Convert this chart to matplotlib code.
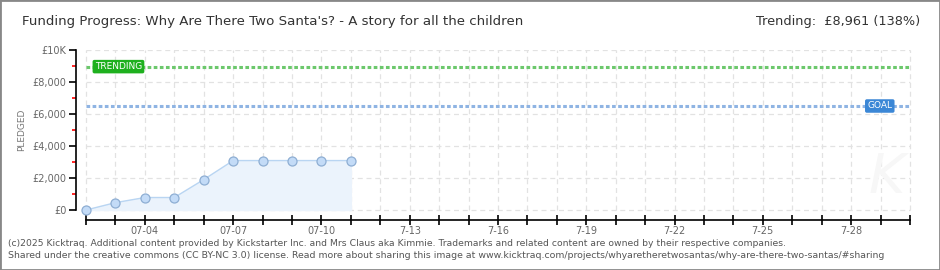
import matplotlib.pyplot as plt
from matplotlib.patches import Rectangle

# days since 07-02 (last tick is 07-30)
days = list(range(0, 29))
tick_labels = ["", "", "07-04", "", "", "07-07", "", "", "07-10", "", "", "7-13", "", "", "7-16",
               "", "", "7-19", "", "", "7-22", "", "", "7-25", "", "", "7-28", "", ""]
pledged_days = [0, 1, 2, 3, 4, 5, 6, 7, 8, 9]
pledged = [0, 460, 780, 780, 1900, 3090, 3090, 3090, 3090, 3090]
goal = 6500
trending = 8961
y_ticks = [0, 2000, 4000, 6000, 8000, 10000]
y_labels = ["£0", "£2,000", "£4,000", "£6,000", "£8,000", "£10K"]
y_minor = [1000, 3000, 5000, 7000, 9000]

W, H = 940, 270
fig = plt.figure(figsize=(9.4, 2.7), dpi=100)
fig.patches.append(Rectangle((0, 0), 1, 1, transform=fig.transFigure, fill=False,
                             edgecolor="#888888", linewidth=2))

ax = fig.add_axes([76 / W, 1 - 220 / H, (912 - 76) / W, 170 / H])
ax.set_xlim(-0.34, 28.07)
ax.set_ylim(-625, 10000)

for s in ["top", "right"]:
    ax.spines[s].set_visible(False)
ax.spines["left"].set_bounds(0, 10000)
ax.spines["bottom"].set_bounds(0, 28)
ax.spines["left"].set_linewidth(1.2)
ax.spines["bottom"].set_linewidth(1.2)

ax.set_xticks(days)
ax.set_xticklabels(tick_labels)
ax.tick_params(axis="x", direction="inout", length=7, width=1.2, labelsize=7,
               labelcolor="#666666", pad=1)
ax.set_yticks(y_ticks)
ax.set_yticklabels(y_labels)
ax.set_yticks(y_minor, minor=True)
ax.tick_params(axis="y", which="major", length=5, width=1.2, labelsize=7, labelcolor="#666666", pad=2)
ax.tick_params(axis="y", which="minor", length=3, width=1.2, color="red")
fig.text(22 / W, 1 - 130 / H, "PLEDGED", fontsize=6.5, color="#777777", rotation=90,
         ha="center", va="center")

# grid
for d in days:
    ax.plot([d, d], [0, 10000], color="#e2e2e2", lw=0.9, ls=(0, (4, 3)), zorder=0)
for y in y_ticks:
    ax.plot([0, 28], [y, y], color="#e2e2e2", lw=0.9, ls=(0, (4, 3)), zorder=0)

# goal and trending lines
ax.plot([0, 28], [trending, trending], color="#6cc86c", lw=2.2, ls=(0, (1.2, 0.8)), zorder=2)
ax.plot([0, 28], [goal, goal], color="#8fb4e3", lw=2.2, ls=(0, (1.2, 0.8)), zorder=2)

# pledged series
ax.fill_between(pledged_days, pledged, 0, color="#ebf3fc", zorder=1)
ax.plot(pledged_days, pledged, color="#b9d5f2", lw=1, zorder=3)
ax.plot(pledged_days, pledged, "o", ms=6.5, mfc="#c3dbf7", mec="#8eaed3", mew=0.9, zorder=4)

# labels on the lines
ax.text(0.3, trending, "TRENDING", fontsize=6.5, color="white", va="center", ha="left",
        zorder=5, bbox=dict(boxstyle="round,pad=0.25,rounding_size=0.2", fc="#1eb01e", ec="none"))
ax.text(26.55, goal, "GOAL", fontsize=6.5, color="white", va="center", ha="left",
        zorder=5, bbox=dict(boxstyle="round,pad=0.25,rounding_size=0.2", fc="#3b87d6", ec="none"))

# faint watermark
ax.text(27.2, 400, "K", fontsize=40, color="#f7f7f7", style="italic", ha="center", va="bottom", zorder=0)

fig.text(22 / W, 1 - 22 / H, "Funding Progress: Why Are There Two Santa's? - A story for all the children",
         fontsize=9.6, color="#333333", va="center", ha="left")
fig.text(920 / W, 1 - 22 / H, "Trending:  £8,961 (138%)", fontsize=9.3, color="#333333",
         va="center", ha="right")
fig.text(8 / W, 1 - 243 / H,
         "(c)2025 Kicktraq. Additional content provided by Kickstarter Inc. and Mrs Claus aka Kimmie. "
         "Trademarks and related content are owned by their respective companies.",
         fontsize=6.65, color="#555555", va="center", ha="left")
fig.text(8 / W, 1 - 256 / H,
         "Shared under the creative commons (CC BY-NC 3.0) license. Read more about sharing this image at "
         "www.kicktraq.com/projects/whyaretheretwosantas/why-are-there-two-santas/#sharing",
         fontsize=6.75, color="#555555", va="center", ha="left")

fig.savefig("out.png", dpi=100)
